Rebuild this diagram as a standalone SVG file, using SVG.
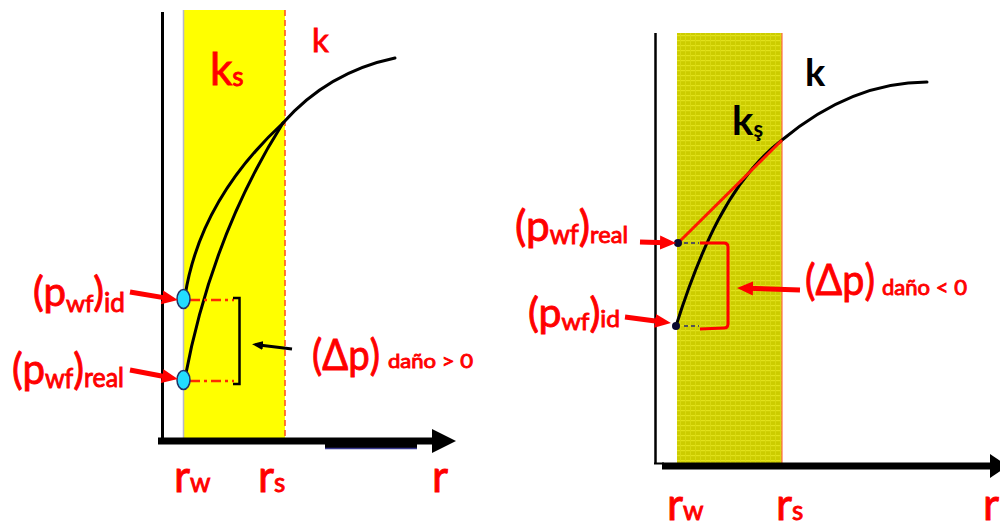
<svg xmlns="http://www.w3.org/2000/svg" width="1000" height="529" viewBox="0 0 1000 529">
<style>
.t{font-family:Lato,"Liberation Sans",sans-serif;}
.red{fill:#ff0000;stroke:#ff0000;stroke-width:0.9;}
.blk{fill:#000;}
.bold{font-weight:bold;}
.curve{fill:none;stroke:#000;stroke-width:3;stroke-linecap:round;}
.axis{stroke:#000;fill:none;}
.rarrow{stroke:#ff0000;stroke-width:5;fill:none;marker-end:url(#ahRed);}
.dashr{stroke:#ff2a00;stroke-width:2.5;stroke-dasharray:10 4 3 4;fill:none;}
</style>
<defs>
<marker id="ahRed" markerUnits="userSpaceOnUse" markerWidth="17" markerHeight="16" refX="6" refY="8" orient="auto">
<path d="M0,1 L16,8 L0,15 z" fill="#ff0000"/>
</marker>
<marker id="ahBlk" markerUnits="userSpaceOnUse" markerWidth="12" markerHeight="10" refX="4" refY="5" orient="auto">
<path d="M0,0.5 L11,5 L0,9.5 z" fill="#000"/>
</marker>
<pattern id="olive" patternUnits="userSpaceOnUse" width="5" height="5">
<rect width="5" height="5" fill="#cccc00"/>
<rect y="0" width="5" height="1.2" fill="#e2e21a"/>
<rect x="0" width="1" height="5" fill="#d8d810"/>
</pattern>
</defs>

<!-- LEFT PANEL -->
<g id="left-zone">
<rect x="183" y="10" width="102" height="428" fill="#ffff00"/>
<line x1="183.5" y1="10" x2="183.5" y2="438" stroke="#b8b8c8" stroke-width="1.5"/>
<line x1="285" y1="10" x2="285" y2="438" stroke="#ff4a1a" stroke-width="1.5" stroke-dasharray="6 4"/>
</g>
<g id="left-axes">
<line class="axis" x1="162.5" y1="12" x2="162.5" y2="442" stroke-width="3"/>
<line class="axis" x1="158" y1="441" x2="436" y2="441" stroke-width="7"/>
<polygon points="432,429 456,441 432,453" fill="#000"/>
<rect x="325" y="441" width="92" height="7" fill="#000"/>
<line x1="325" y1="448.5" x2="417" y2="448.5" stroke="#3a3a90" stroke-width="1.5"/>
</g>
<g id="left-curves">
<path class="curve" d="M283,123 Q328,72 395,58"/>
<path class="curve" d="M185,296 Q200,200 283,123"/>
<path class="curve" d="M185,378 Q212,235 283,123"/>
</g>
<g id="left-levels">
<line class="dashr" x1="190" y1="300" x2="234" y2="300"/>
<line class="dashr" x1="190" y1="381" x2="234" y2="381"/>
<path d="M233,298 L239.5,298 L239.5,384 L233,384" fill="none" stroke="#000" stroke-width="2.5"/>
<ellipse cx="183.5" cy="299" rx="6.5" ry="9.5" fill="#22ddff" stroke="#223366" stroke-width="1.5"/>
<ellipse cx="183.5" cy="380" rx="6.5" ry="9.5" fill="#22ddff" stroke="#223366" stroke-width="1.5"/>
</g>
<g id="left-labels">
<text class="t red" x="312" y="52" font-size="33">k</text>
<text class="t red" x="210" y="85" font-size="44">k<tspan font-size="26" dy="1">s</tspan></text>
<text class="t red" x="33" y="306" font-size="40" textLength="92" lengthAdjust="spacingAndGlyphs">(p<tspan font-size="24" dy="6">wf</tspan><tspan font-size="40" dy="-6">)</tspan><tspan font-size="26" dy="6">id</tspan></text>
<text class="t red" x="12" y="384" font-size="42" textLength="112" lengthAdjust="spacingAndGlyphs">(p<tspan font-size="26" dy="4">wf</tspan><tspan font-size="42" dy="-4">)</tspan><tspan font-size="26" dy="3">real</tspan></text>
<text class="t red" x="312" y="370" font-size="42" textLength="68" lengthAdjust="spacingAndGlyphs">(Δp)</text>
<text class="t red" x="388" y="368" font-size="20" textLength="85" lengthAdjust="spacingAndGlyphs">daño &gt; 0</text>
<text class="t red" x="174" y="492" font-size="44">r<tspan font-size="26">w</tspan></text>
<text class="t red" x="258" y="492" font-size="44">r<tspan font-size="26">s</tspan></text>
<text class="t red" x="432" y="492" font-size="44">r</text>
</g>

<!-- RIGHT PANEL -->
<g id="right-zone">
<rect x="677" y="33" width="105" height="431" fill="url(#olive)"/>
<line x1="782" y1="33" x2="782" y2="464" stroke="#ff6a4a" stroke-width="1.2"/>
</g>
<g id="right-axes">
<line class="axis" x1="655.5" y1="33" x2="655.5" y2="464" stroke-width="2.5"/>
<line class="axis" x1="654" y1="463.5" x2="664" y2="463.5" stroke-width="2"/>
<line class="axis" x1="662" y1="466" x2="995" y2="466" stroke-width="7"/>
<polygon points="990,454 1008,466 990,478" fill="#000"/>
</g>
<g id="right-curves">
<path class="curve" d="M676,326 C700,250 730,180 782,140 C830,100 880,82 927,82"/>
<line x1="679" y1="242" x2="782" y2="140" stroke="#ff1a00" stroke-width="3"/>
</g>
<g id="right-levels">
<line x1="684" y1="243" x2="699" y2="243" stroke="#555" stroke-width="2" stroke-dasharray="4 3"/>
<line x1="684" y1="326" x2="699" y2="326" stroke="#555" stroke-width="2" stroke-dasharray="4 3"/>
<path d="M700,243 L724,243 Q728,243 728,247 L728,324 Q728,328 724,328 L700,329" fill="none" stroke="#ff0000" stroke-width="3"/>
<circle cx="678" cy="243" r="4" fill="#0a0a30"/>
<circle cx="676" cy="326" r="4" fill="#0a0a30"/>
</g>
<g id="right-labels">
<text class="t blk bold" x="805" y="86" font-size="38">k</text>
<text class="t blk bold" x="732" y="135" font-size="40">k<tspan font-size="22" dy="2">ş</tspan></text>
<text class="t red" x="515" y="241" font-size="43" textLength="113" lengthAdjust="spacingAndGlyphs">(p<tspan font-size="26" dy="3">wf</tspan><tspan font-size="43" dy="-3">)</tspan><tspan font-size="24" dy="2">real</tspan></text>
<text class="t red" x="528" y="327" font-size="40" textLength="92" lengthAdjust="spacingAndGlyphs">(p<tspan font-size="24" dy="3">wf</tspan><tspan font-size="40" dy="-3">)</tspan><tspan font-size="24" dy="0">id</tspan></text>
<text class="t red" x="805" y="295" font-size="42" textLength="70" lengthAdjust="spacingAndGlyphs">(Δp)</text>
<text class="t red" x="882" y="295" font-size="21" textLength="85" lengthAdjust="spacingAndGlyphs">daño &lt; 0</text>
<text class="t red" x="667" y="520" font-size="44">r<tspan font-size="26">w</tspan></text>
<text class="t red" x="776" y="520" font-size="44">r<tspan font-size="26">s</tspan></text>
<text class="t red" x="983" y="520" font-size="44">r</text>
</g>

<g id="connectors">
<line class="rarrow" x1="130" y1="292" x2="168" y2="298.4"/>
<line class="rarrow" x1="130" y1="370" x2="168" y2="377.2"/>
<line x1="292" y1="349" x2="259" y2="345" stroke="#000" stroke-width="3" marker-end="url(#ahBlk)"/>
<line class="rarrow" x1="640" y1="242" x2="666" y2="242.7"/>
<line class="rarrow" x1="625" y1="317" x2="661" y2="321.7"/>
<line class="rarrow" x1="800" y1="290" x2="747" y2="288.3"/>
</g>
</svg>
